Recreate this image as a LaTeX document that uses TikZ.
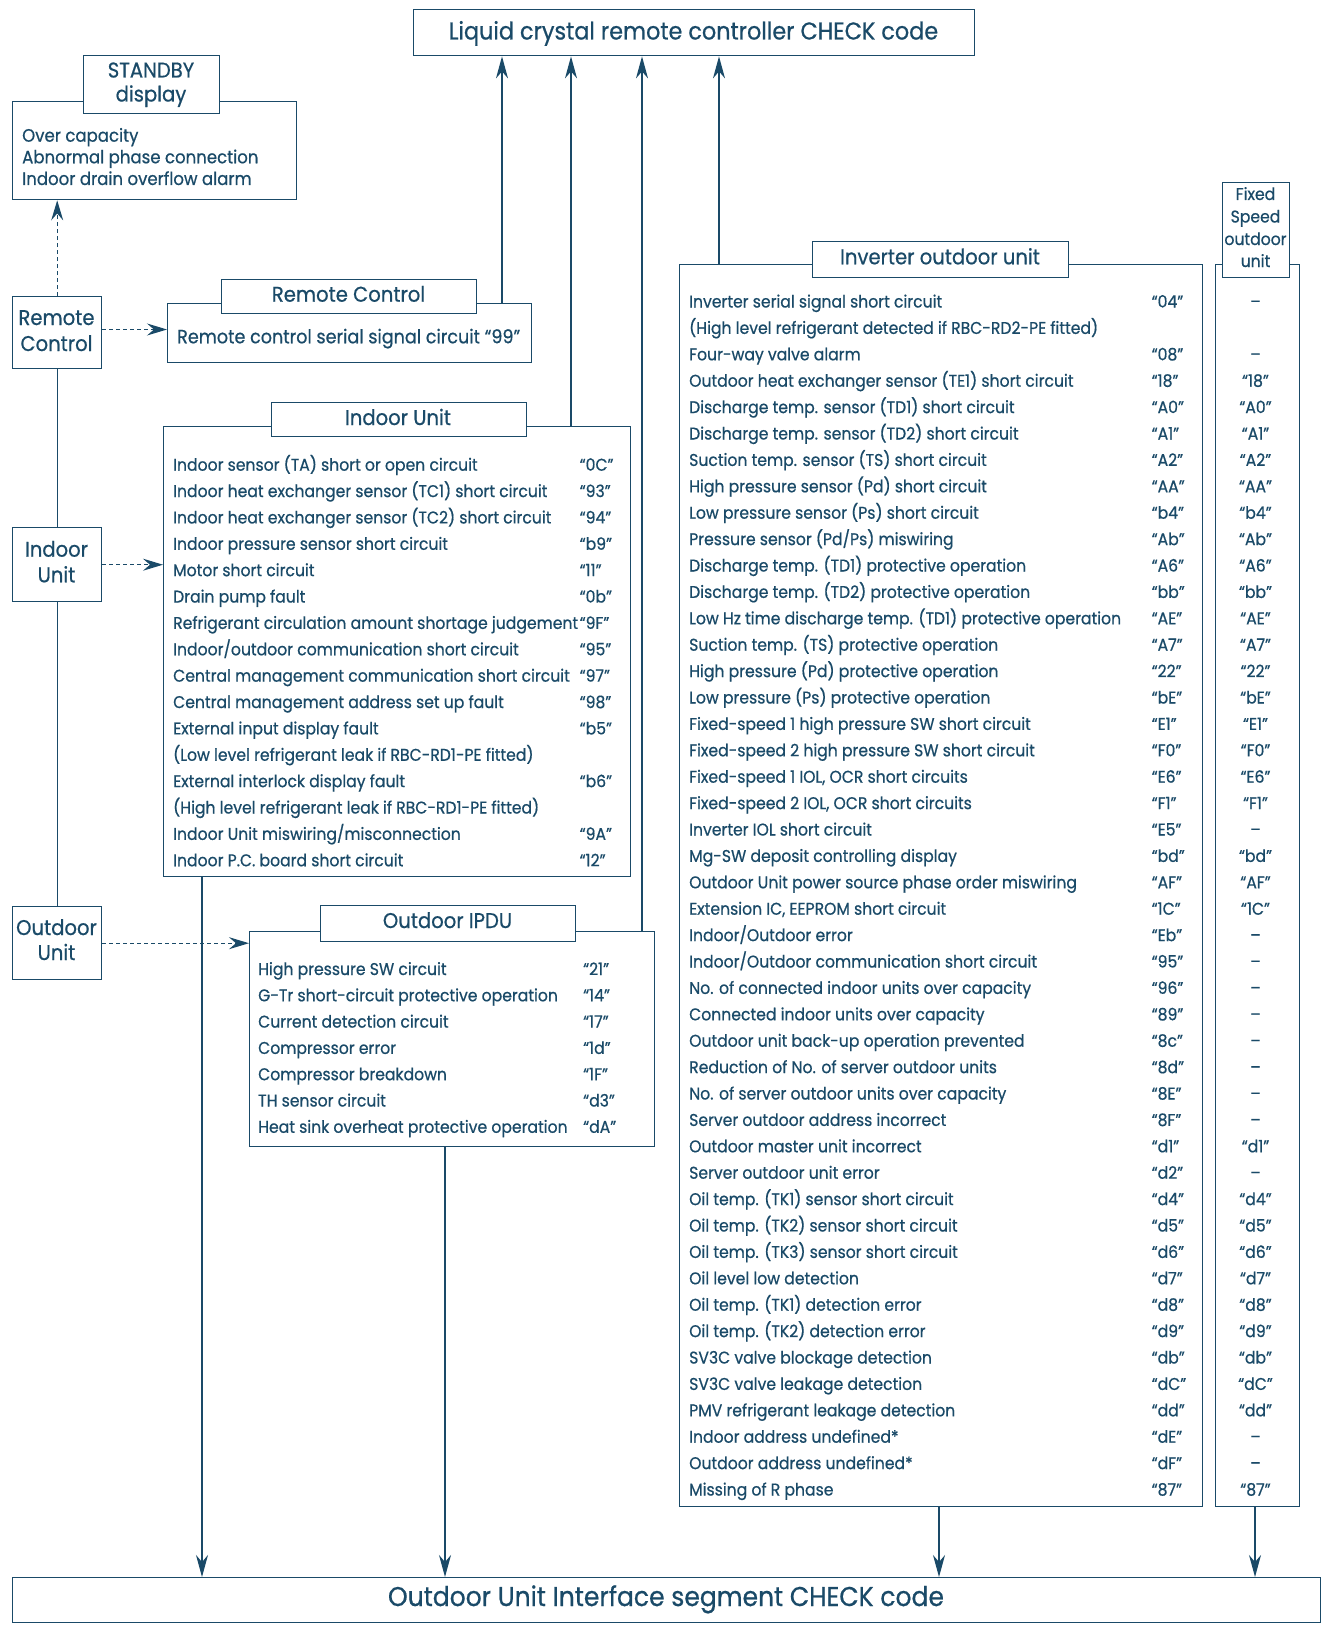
\documentclass[tikz,border=0pt]{standalone}
\usepackage{fontspec}
\setmainfont{Poppins}[FakeStretch=0.92,FakeBold=0.6]
\usetikzlibrary{arrows.meta}
\definecolor{ink}{RGB}{26,74,104}
\newcommand\bodyfnt{\fontsize{17}{22}\selectfont}
\newcommand\tabfnt{\fontsize{21.3}{24}\selectfont}
\newcommand\topfnt{\fontsize{24.3}{27}\selectfont}
\newcommand\botfnt{\fontsize{27.2}{30}\selectfont}
\newcommand\fixfnt{\fontsize{17}{22}\selectfont}
\begin{document}
\begin{tikzpicture}[x=1pt,y=-1pt,
  box/.style={draw=ink,line width=1.4pt,fill=white,inner sep=0pt,anchor=north west},
  lbl/.style={text=ink,inner sep=0pt,anchor=base west,font=\bodyfnt},
  ctr/.style={text=ink,inner sep=0pt,anchor=base,font=\tabfnt},
  fix/.style={text=ink,inner sep=0pt,anchor=base,font=\fixfnt},
  link/.style={draw=ink,line width=1.4pt},
  arr/.style={link,-{Stealth[length=22pt,width=12pt,inset=7pt]}},
  darr/.style={draw=ink,line width=1.1pt,dash pattern=on 4pt off 3pt,-{Stealth[length=20pt,width=12pt,inset=7pt]}}]
\fill[white] (0,0) rectangle (1326,1632);
\useasboundingbox (0,0) rectangle (1326,1632);

% top and bottom targets
\node[box,minimum width=561pt,minimum height=46pt] (lcd) at (413,9) {};
\node[ctr,font=\topfnt] (lcdt) at (693.5,39.5) {Liquid crystal remote controller CHECK code};
\node[box,minimum width=1308pt,minimum height=45pt] (bot) at (12,1577) {};
\node[ctr,font=\botfnt] (bott) at (666,1606) {Outdoor Unit Interface segment CHECK code};

% standby
\node[box,minimum width=284pt,minimum height=98pt] (sbbox) at (12,101) {};
\node[box,minimum width=136pt,minimum height=58pt] (sbtab) at (83,55) {};
\node[ctr] (sbt1) at (151,77.5) {STANDBY};
\node[ctr] (sbt2) at (151,101.5) {display};
\node[lbl,font=\fontsize{18}{22}\selectfont] (sb1) at (22,141.7) {Over capacity};
\node[lbl,font=\fontsize{18}{22}\selectfont] (sb2) at (22,163.3) {Abnormal phase connection};
\node[lbl,font=\fontsize{18}{22}\selectfont] (sb3) at (22,185) {Indoor drain overflow alarm};

% left column
\node[box,minimum width=89pt,minimum height=72pt] (rcl) at (12,296) {};
\node[ctr] (rcl1) at (56.5,325) {Remote};
\node[ctr] (rcl2) at (56.5,351) {Control};
\node[box,minimum width=89pt,minimum height=74pt] (iul) at (12,527) {};
\node[ctr] (iul1) at (56.5,556.7) {Indoor};
\node[ctr] (iul2) at (56.5,582.3) {Unit};
\node[box,minimum width=89pt,minimum height=73pt] (oul) at (12,906) {};
\node[ctr] (oul1) at (56.5,935) {Outdoor};
\node[ctr] (oul2) at (56.5,960) {Unit};

% remote control box
\node[box,minimum width=364pt,minimum height=59pt] (rcbox) at (167,303) {};
\node[box,minimum width=255pt,minimum height=34pt] (rctab) at (221,279) {};
\node[ctr] (rctabt) at (348.5,301.7) {Remote Control};
\node[lbl,font=\fontsize{19.1}{22}\selectfont] (rc1) at (177,343.3) {Remote control serial signal circuit “99”};

% indoor unit box
\node[box,minimum width=467pt,minimum height=450pt] (iubox) at (163,426) {};
\node[box,minimum width=255pt,minimum height=34pt] (iutab) at (271,402) {};
\node[ctr] (iutabt) at (398,425) {Indoor Unit};
\foreach \t/\c [count=\i from 0] in {
{Indoor sensor (TA) short or open circuit}/{“0C”},
{Indoor heat exchanger sensor (TC1) short circuit}/{“93”},
{Indoor heat exchanger sensor (TC2) short circuit}/{“94”},
{Indoor pressure sensor short circuit}/{“b9”},
{Motor short circuit}/{“11”},
{Drain pump fault}/{“0b”},
{Refrigerant circulation amount shortage judgement}/{“9F”},
{Indoor/outdoor communication short circuit}/{“95”},
{Central management communication short circuit}/{“97”},
{Central management address set up fault}/{“98”},
{External input display fault}/{“b5”},
{(Low level refrigerant leak if RBC-RD1-PE fitted)}/{},
{External interlock display fault}/{“b6”},
{(High level refrigerant leak if RBC-RD1-PE fitted)}/{},
{Indoor Unit miswiring/misconnection}/{“9A”},
{Indoor P.C. board short circuit}/{“12”}}{
  \node[lbl] (iu\i) at (173,470.7+\i*26.37) {\t};
  \node[lbl] (iuc\i) at (579.5,470.7+\i*26.37) {\c};
}

% outdoor IPDU box
\node[box,minimum width=405pt,minimum height=215pt] (ipbox) at (249,931) {};
\node[box,minimum width=255pt,minimum height=36pt] (iptab) at (320,905) {};
\node[ctr] (iptabt) at (447.5,928) {Outdoor IPDU};
\foreach \t/\c [count=\i from 0] in {
{High pressure SW circuit}/{“21”},
{G-Tr short-circuit protective operation}/{“14”},
{Current detection circuit}/{“17”},
{Compressor error}/{“1d”},
{Compressor breakdown}/{“1F”},
{TH sensor circuit}/{“d3”},
{Heat sink overheat protective operation}/{“dA”}}{
  \node[lbl] (ip\i) at (258,975+\i*26.3) {\t};
  \node[lbl] (ipc\i) at (583,975+\i*26.3) {\c};
}

% inverter outdoor unit and fixed speed
\node[box,minimum width=523pt,minimum height=1242pt] (invbox) at (679,264) {};
\node[box,minimum width=256pt,minimum height=36pt] (invtab) at (812,241) {};
\node[ctr] (invtabt) at (940,264.3) {Inverter outdoor unit};
\node[box,minimum width=84pt,minimum height=1242pt] (fxbox) at (1215,264) {};
\node[box,minimum width=67pt,minimum height=95pt] (fxtab) at (1222,182) {};
\node[fix] (fx1) at (1255.5,200) {Fixed};
\node[fix] (fx2) at (1255.5,222.5) {Speed};
\node[fix] (fx3) at (1255.5,245) {outdoor};
\node[fix] (fx4) at (1255.5,267) {unit};
\foreach \t/\c/\f [count=\i from 0] in {
{Inverter serial signal short circuit}/{“04”}/{–},
{(High level refrigerant detected if RBC-RD2-PE fitted)}/{}/{},
{Four-way valve alarm}/{“08”}/{–},
{Outdoor heat exchanger sensor (TE1) short circuit}/{“18”}/{“18”},
{Discharge temp. sensor (TD1) short circuit}/{“A0”}/{“A0”},
{Discharge temp. sensor (TD2) short circuit}/{“A1”}/{“A1”},
{Suction temp. sensor (TS) short circuit}/{“A2”}/{“A2”},
{High pressure sensor (Pd) short circuit}/{“AA”}/{“AA”},
{Low pressure sensor (Ps) short circuit}/{“b4”}/{“b4”},
{Pressure sensor (Pd/Ps) miswiring}/{“Ab”}/{“Ab”},
{Discharge temp. (TD1) protective operation}/{“A6”}/{“A6”},
{Discharge temp. (TD2) protective operation}/{“bb”}/{“bb”},
{Low Hz time discharge temp. (TD1) protective operation}/{“AE”}/{“AE”},
{Suction temp. (TS) protective operation}/{“A7”}/{“A7”},
{High pressure (Pd) protective operation}/{“22”}/{“22”},
{Low pressure (Ps) protective operation}/{“bE”}/{“bE”},
{Fixed-speed 1 high pressure SW short circuit}/{“E1”}/{“E1”},
{Fixed-speed 2 high pressure SW short circuit}/{“F0”}/{“F0”},
{Fixed-speed 1 IOL, OCR short circuits}/{“E6”}/{“E6”},
{Fixed-speed 2 IOL, OCR short circuits}/{“F1”}/{“F1”},
{Inverter IOL short circuit}/{“E5”}/{–},
{Mg-SW deposit controlling display}/{“bd”}/{“bd”},
{Outdoor Unit power source phase order miswiring}/{“AF”}/{“AF”},
{Extension IC, EEPROM short circuit}/{“1C”}/{“1C”},
{Indoor/Outdoor error}/{“Eb”}/{–},
{Indoor/Outdoor communication short circuit}/{“95”}/{–},
{No. of connected indoor units over capacity}/{“96”}/{–},
{Connected indoor units over capacity}/{“89”}/{–},
{Outdoor unit back-up operation prevented}/{“8c”}/{–},
{Reduction of No. of server outdoor units}/{“8d”}/{–},
{No. of server outdoor units over capacity}/{“8E”}/{–},
{Server outdoor address incorrect}/{“8F”}/{–},
{Outdoor master unit incorrect}/{“d1”}/{“d1”},
{Server outdoor unit error}/{“d2”}/{–},
{Oil temp. (TK1) sensor short circuit}/{“d4”}/{“d4”},
{Oil temp. (TK2) sensor short circuit}/{“d5”}/{“d5”},
{Oil temp. (TK3) sensor short circuit}/{“d6”}/{“d6”},
{Oil level low detection}/{“d7”}/{“d7”},
{Oil temp. (TK1) detection error}/{“d8”}/{“d8”},
{Oil temp. (TK2) detection error}/{“d9”}/{“d9”},
{SV3C valve blockage detection}/{“db”}/{“db”},
{SV3C valve leakage detection}/{“dC”}/{“dC”},
{PMV refrigerant leakage detection}/{“dd”}/{“dd”},
{Indoor address undefined*}/{“dE”}/{–},
{Outdoor address undefined*}/{“dF”}/{–},
{Missing of R phase}/{“87”}/{“87”}}{
  \node[lbl] (inv\i) at (689,307.5+\i*26.4) {\t};
  \node[lbl] (invc\i) at (1151.5,307.5+\i*26.4) {\c};
  \node[lbl,anchor=base] (fxc\i) at (1255.5,307.5+\i*26.4) {\f};
}

% connectors
\coordinate (ax1) at (502,0);
\coordinate (ax2) at (571,0);
\coordinate (ax3) at (642,0);
\coordinate (ax4) at (719,0);
\coordinate (ax5) at (202,0);
\coordinate (ax6) at (445,0);
\coordinate (ax7) at (939,0);
\coordinate (ax8) at (1255,0);
\coordinate (dy1) at (0,329.5);
\draw[arr] (rcbox.north -| ax1) -- (lcd.south -| ax1);
\draw[arr] (iubox.north -| ax2) -- (lcd.south -| ax2);
\draw[arr] (ipbox.north -| ax3) -- (lcd.south -| ax3);
\draw[arr] (invbox.north -| ax4) -- (lcd.south -| ax4);
\draw[arr] (iubox.south -| ax5) -- (bot.north -| ax5);
\draw[arr] (ipbox.south -| ax6) -- (bot.north -| ax6);
\draw[arr] (invbox.south -| ax7) -- (bot.north -| ax7);
\draw[arr] (fxbox.south -| ax8) -- (bot.north -| ax8);
\draw[link] (rcl.south) -- (iul.north);
\draw[link] (iul.south) -- (oul.north);
\draw[darr] (rcl.north) -- (sbbox.south -| rcl.north);
\draw[darr] (rcl.east |- dy1) -- (rcbox.west |- dy1);
\draw[darr] (iul.east) -- (iubox.west |- iul.east);
\draw[darr] (oul.east) -- (ipbox.west |- oul.east);
\end{tikzpicture}
\end{document}
